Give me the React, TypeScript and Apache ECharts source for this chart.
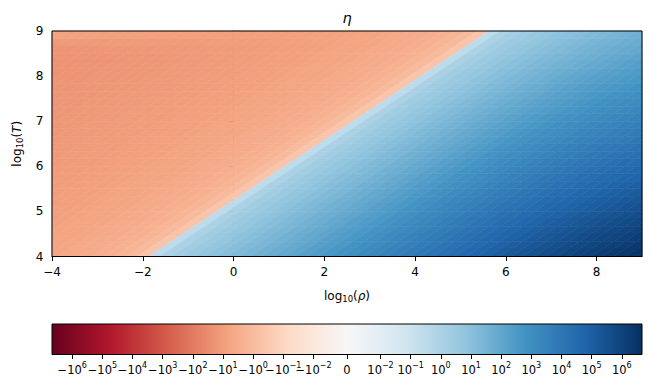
import React, { useEffect, useRef } from 'react';
import * as echarts from 'echarts';

// cell centres (log10 rho, log10 T)
const LOG_RHO = [-4.125, -3.875, -3.625, -3.375, -3.125, -2.875, -2.625, -2.375, -2.125, -1.875, -1.625, -1.375, -1.125, -0.875, -0.625, -0.375, -0.125, 0.125, 0.375, 0.625, 0.875, 1.125, 1.375, 1.625, 1.875, 2.125, 2.375, 2.625, 2.875, 3.125, 3.375, 3.625, 3.875, 4.125, 4.375, 4.625, 4.875, 5.125, 5.375, 5.625, 5.875, 6.125, 6.375, 6.625, 6.875, 7.125, 7.375, 7.625, 7.875, 8.125, 8.375, 8.625, 8.875, 9.125];
const LOG_T = [4.0833, 4.25, 4.4167, 4.5833, 4.75, 4.9167, 5.0833, 5.25, 5.4167, 5.5833, 5.75, 5.9167, 6.0833, 6.25, 6.4167, 6.5833, 6.75, 6.9167, 7.0833, 7.25, 7.4167, 7.5833, 7.75, 7.9167, 8.0833, 8.25, 8.4167, 8.5833, 8.75, 8.9167];

// eta, one row per LOG_T value (bottom to top), one entry per LOG_RHO value
const ETA = [
  [-5.8, -5.2, -4.6, -4.1, -3.5, -2.9, -2.3, -1.7, -1.1, -0.46, 0.29, 1.13, 2.16, 3.5, 5.3, 7.9, 11.7, 17.3, 25.4, 37.3, 54.7, 80.3, 118, 173, 254, 373, 547, 803, 1180, 1730, 2540, 3720, 5440, 7960, 11700, 17000, 24700, 35900, 51700, 74100, 106000, 148000, 206000, 283000, 383000, 511000, 673000, 874000, 1.12e6, 1.43e6, 1.81e6, 2.26e6, 2.83e6, 3.5e6],
  [-6.4, -5.8, -5.2, -4.6, -4.1, -3.5, -2.9, -2.3, -1.7, -1.1, -0.46, 0.29, 1.13, 2.16, 3.5, 5.3, 7.9, 11.7, 17.3, 25.4, 37.3, 54.7, 80.3, 118, 173, 254, 373, 547, 803, 1180, 1730, 2530, 3700, 5420, 7940, 11600, 16800, 24400, 35200, 50500, 71900, 101000, 140000, 193000, 261000, 348000, 458000, 595000, 765000, 976000, 1.23e6, 1.54e6, 1.93e6, 2.39e6],
  [-6.9, -6.4, -5.8, -5.2, -4.6, -4.1, -3.5, -2.9, -2.3, -1.7, -1.1, -0.46, 0.29, 1.13, 2.16, 3.5, 5.3, 7.9, 11.7, 17.3, 25.4, 37.3, 54.7, 80.3, 118, 173, 254, 373, 547, 803, 1180, 1730, 2520, 3690, 5410, 7880, 11500, 16600, 24000, 34400, 49000, 68800, 95700, 131000, 178000, 237000, 312000, 406000, 521000, 665000, 838000, 1.05e6, 1.32e6, 1.63e6],
  [-7.5, -6.9, -6.4, -5.8, -5.2, -4.6, -4.1, -3.5, -2.9, -2.3, -1.7, -1.1, -0.46, 0.29, 1.13, 2.16, 3.5, 5.3, 7.9, 11.7, 17.3, 25.4, 37.3, 54.7, 80.3, 118, 173, 254, 373, 547, 803, 1180, 1720, 2520, 3680, 5370, 7810, 11300, 16300, 23400, 33400, 46900, 65200, 89500, 121000, 162000, 213000, 276000, 355000, 453000, 571000, 716000, 896000, 1.11e6],
  [-8.1, -7.5, -6.9, -6.4, -5.8, -5.2, -4.6, -4.1, -3.5, -2.9, -2.3, -1.7, -1.1, -0.46, 0.29, 1.13, 2.16, 3.5, 5.3, 7.9, 11.7, 17.3, 25.4, 37.3, 54.7, 80.3, 118, 173, 254, 373, 547, 800, 1170, 1710, 2510, 3660, 5320, 7720, 11100, 16000, 22700, 31900, 44400, 61000, 82400, 110000, 145000, 188000, 242000, 309000, 389000, 488000, 610000, 755000],
  [-8.7, -8.1, -7.5, -6.9, -6.4, -5.8, -5.2, -4.6, -4.1, -3.5, -2.9, -2.3, -1.7, -1.1, -0.46, 0.29, 1.13, 2.16, 3.5, 5.3, 7.9, 11.7, 17.3, 25.4, 37.3, 54.7, 80.3, 118, 173, 254, 373, 545, 798, 1170, 1710, 2490, 3630, 5260, 7590, 10900, 15500, 21800, 30300, 41600, 56200, 75000, 98700, 128000, 165000, 210000, 265000, 332000, 416000, 515000],
  [-9.2, -8.7, -8.1, -7.5, -6.9, -6.4, -5.8, -5.2, -4.6, -4.1, -3.5, -2.9, -2.3, -1.7, -1.1, -0.46, 0.29, 1.13, 2.16, 3.5, 5.3, 7.9, 11.7, 17.3, 25.4, 37.3, 54.7, 80.3, 118, 173, 254, 372, 544, 796, 1170, 1700, 2470, 3590, 5170, 7410, 10600, 14800, 20600, 28300, 38300, 51100, 67300, 87400, 112000, 143000, 181000, 226000, 283000, 351000],
  [-9.8, -9.2, -8.7, -8.1, -7.5, -6.9, -6.4, -5.8, -5.2, -4.6, -4.1, -3.5, -2.9, -2.3, -1.7, -1.1, -0.46, 0.29, 1.13, 2.16, 3.5, 5.3, 7.9, 11.7, 17.3, 25.4, 37.3, 54.7, 80.3, 118, 173, 253, 370, 542, 794, 1160, 1680, 2440, 3520, 5050, 7190, 10100, 14100, 19300, 26100, 34800, 45800, 59500, 76500, 97600, 123000, 154000, 193000, 239000],
  [-10.4, -9.8, -9.2, -8.7, -8.1, -7.5, -6.9, -6.4, -5.8, -5.2, -4.6, -4.1, -3.5, -2.9, -2.3, -1.7, -1.1, -0.46, 0.29, 1.13, 2.16, 3.5, 5.3, 7.9, 11.7, 17.3, 25.4, 37.3, 54.7, 80.3, 118, 172, 252, 369, 541, 788, 1150, 1660, 2400, 3440, 4900, 6880, 9570, 13100, 17800, 23700, 31200, 40600, 52100, 66500, 83800, 105000, 132000, 163000],
  [-11, -10.4, -9.8, -9.2, -8.7, -8.1, -7.5, -6.9, -6.4, -5.8, -5.2, -4.6, -4.1, -3.5, -2.9, -2.3, -1.7, -1.1, -0.46, 0.29, 1.13, 2.16, 3.5, 5.3, 7.9, 11.7, 17.3, 25.4, 37.3, 54.7, 80.3, 117, 172, 252, 368, 537, 781, 1130, 1630, 2340, 3340, 4690, 6520, 8950, 12100, 16200, 21300, 27600, 35500, 45300, 57100, 71600, 89600, 111000],
  [-11.5, -11, -10.4, -9.8, -9.2, -8.7, -8.1, -7.5, -6.9, -6.4, -5.8, -5.2, -4.6, -4.1, -3.5, -2.9, -2.3, -1.7, -1.1, -0.46, 0.29, 1.13, 2.16, 3.5, 5.3, 7.9, 11.7, 17.3, 25.4, 37.3, 54.7, 80, 117, 171, 251, 366, 532, 772, 1110, 1600, 2270, 3190, 4440, 6100, 8240, 11000, 14500, 18800, 24200, 30900, 38900, 48800, 61000, 75500],
  [-12.1, -11.5, -11, -10.4, -9.8, -9.2, -8.7, -8.1, -7.5, -6.9, -6.4, -5.8, -5.2, -4.6, -4.1, -3.5, -2.9, -2.3, -1.7, -1.1, -0.46, 0.29, 1.13, 2.16, 3.5, 5.3, 7.9, 11.7, 17.3, 25.4, 37.3, 54.5, 79.8, 117, 171, 249, 363, 526, 759, 1090, 1550, 2180, 3030, 4160, 5620, 7500, 9870, 12800, 16500, 21000, 26500, 33200, 41600, 51500],
  [-12.7, -12.1, -11.5, -11, -10.4, -9.8, -9.2, -8.7, -8.1, -7.5, -6.9, -6.4, -5.8, -5.2, -4.6, -4.1, -3.5, -2.9, -2.3, -1.7, -1.1, -0.46, 0.29, 1.13, 2.16, 3.5, 5.3, 7.9, 11.7, 17.3, 25.4, 37.2, 54.4, 79.6, 117, 170, 247, 359, 517, 741, 1060, 1480, 2060, 2830, 3830, 5110, 6730, 8740, 11200, 14300, 18100, 22600, 28300, 35100],
  [-13.3, -12.7, -12.1, -11.5, -11, -10.4, -9.8, -9.2, -8.7, -8.1, -7.5, -6.9, -6.4, -5.8, -5.2, -4.6, -4.1, -3.5, -2.9, -2.3, -1.7, -1.1, -0.46, 0.29, 1.13, 2.16, 3.5, 5.3, 7.9, 11.7, 17.3, 25.3, 37, 54.2, 79.4, 116, 168, 244, 352, 505, 719, 1010, 1410, 1930, 2610, 3480, 4580, 5950, 7650, 9760, 12300, 15400, 19300, 23900],
  [-13.8, -13.3, -12.7, -12.1, -11.5, -11, -10.4, -9.8, -9.2, -8.7, -8.1, -7.5, -6.9, -6.4, -5.8, -5.2, -4.6, -4.1, -3.5, -2.9, -2.3, -1.7, -1.1, -0.46, 0.29, 1.13, 2.16, 3.5, 5.3, 7.9, 11.7, 17.2, 25.2, 36.9, 54.1, 78.8, 115, 166, 240, 344, 490, 688, 957, 1310, 1780, 2370, 3120, 4060, 5210, 6650, 8380, 10500, 13200, 16300],
  [-14.4, -13.8, -13.3, -12.7, -12.1, -11.5, -11, -10.4, -9.8, -9.2, -8.7, -8.1, -7.5, -6.9, -6.4, -5.8, -5.2, -4.6, -4.1, -3.5, -2.9, -2.3, -1.7, -1.1, -0.46, 0.29, 1.13, 2.16, 3.5, 5.3, 7.9, 11.7, 17.2, 25.2, 36.8, 53.7, 78.1, 113, 163, 234, 334, 469, 652, 895, 1210, 1620, 2130, 2760, 3550, 4530, 5710, 7160, 8960, 11100],
  [-15, -14.4, -13.8, -13.3, -12.7, -12.1, -11.5, -11, -10.4, -9.8, -9.2, -8.7, -8.1, -7.5, -6.9, -6.4, -5.8, -5.2, -4.6, -4.1, -3.5, -2.9, -2.3, -1.7, -1.1, -0.46, 0.29, 1.13, 2.16, 3.5, 5.3, 7.9, 11.7, 17.1, 25.1, 36.6, 53.2, 77.2, 111, 160, 227, 319, 444, 610, 824, 1100, 1450, 1880, 2420, 3090, 3890, 4880, 6100, 7550],
  [-15.6, -15, -14.4, -13.8, -13.3, -12.7, -12.1, -11.5, -11, -10.4, -9.8, -9.2, -8.7, -8.1, -7.5, -6.9, -6.4, -5.8, -5.2, -4.6, -4.1, -3.5, -2.9, -2.3, -1.7, -1.1, -0.46, 0.29, 1.13, 2.16, 3.5, 5.3, 7.85, 11.7, 17.1, 24.9, 36.3, 52.6, 75.9, 109, 155, 218, 303, 416, 562, 750, 987, 1280, 1650, 2100, 2650, 3320, 4160, 5150],
  [-16.1, -15.6, -15, -14.4, -13.8, -13.3, -12.7, -12.1, -11.5, -11, -10.4, -9.8, -9.2, -8.7, -8.1, -7.5, -6.9, -6.4, -5.8, -5.2, -4.6, -4.1, -3.5, -2.9, -2.3, -1.7, -1.1, -0.46, 0.29, 1.13, 2.16, 3.49, 5.27, 7.83, 11.7, 17, 24.7, 35.9, 51.7, 74.1, 106, 148, 206, 283, 383, 511, 673, 874, 1120, 1430, 1810, 2260, 2830, 3510],
  [-16.7, -16.1, -15.6, -15, -14.4, -13.8, -13.3, -12.7, -12.1, -11.5, -11, -10.4, -9.8, -9.2, -8.7, -8.1, -7.5, -6.9, -6.4, -5.8, -5.2, -4.6, -4.1, -3.5, -2.9, -2.3, -1.7, -1.1, -0.46, 0.29, 1.13, 2.15, 3.48, 5.25, 7.8, 11.6, 16.8, 24.4, 35.2, 50.5, 71.9, 101, 140, 193, 261, 348, 458, 595, 765, 976, 1230, 1540, 1930, 2390],
  [-17.3, -16.7, -16.1, -15.6, -15, -14.4, -13.8, -13.3, -12.7, -12.1, -11.5, -11, -10.4, -9.8, -9.2, -8.7, -8.1, -7.5, -6.9, -6.4, -5.8, -5.2, -4.6, -4.1, -3.5, -2.9, -2.3, -1.7, -1.1, -0.46, 0.29, 1.13, 2.15, 3.47, 5.23, 7.75, 11.5, 16.6, 24, 34.4, 49, 68.8, 95.7, 131, 178, 237, 312, 406, 521, 665, 838, 1050, 1320, 1630],
  [-17.9, -17.3, -16.7, -16.1, -15.6, -15, -14.4, -13.8, -13.3, -12.7, -12.1, -11.5, -11, -10.4, -9.8, -9.2, -8.7, -8.1, -7.5, -6.9, -6.4, -5.8, -5.2, -4.6, -4.1, -3.5, -2.9, -2.3, -1.7, -1.1, -0.46, 0.29, 1.12, 2.14, 3.45, 5.2, 7.69, 11.3, 16.3, 23.4, 33.4, 46.9, 65.2, 89.5, 121, 161, 213, 276, 355, 453, 571, 716, 895, 1110],
  [-18.4, -17.9, -17.3, -16.7, -16.1, -15.6, -15, -14.4, -13.8, -13.3, -12.7, -12.1, -11.5, -11, -10.4, -9.8, -9.2, -8.7, -8.1, -7.5, -6.9, -6.4, -5.8, -5.2, -4.6, -4.1, -3.5, -2.9, -2.3, -1.7, -1.1, -0.46, 0.29, 1.12, 2.13, 3.43, 5.16, 7.59, 11.1, 16, 22.7, 31.9, 44.4, 61, 82.4, 110, 145, 188, 242, 308, 389, 488, 610, 755],
  [-19, -18.4, -17.9, -17.3, -16.7, -16.1, -15.6, -15, -14.4, -13.8, -13.3, -12.7, -12.1, -11.5, -11, -10.4, -9.8, -9.2, -8.7, -8.1, -7.5, -6.9, -6.4, -5.8, -5.2, -4.6, -4.1, -3.5, -2.9, -2.3, -1.7, -1.1, -0.46, 0.29, 1.12, 2.12, 3.41, 5.09, 7.47, 10.9, 15.5, 21.8, 30.3, 41.6, 56.2, 75, 98.7, 128, 165, 210, 265, 332, 416, 515],
  [-19.6, -19, -18.4, -17.9, -17.3, -16.7, -16.1, -15.6, -15, -14.4, -13.8, -13.3, -12.7, -12.1, -11.5, -11, -10.4, -9.8, -9.2, -8.7, -8.1, -7.5, -6.9, -6.4, -5.8, -5.2, -4.6, -4.1, -3.5, -2.9, -2.3, -1.7, -1.1, -0.46, 0.29, 1.11, 2.1, 3.36, 5.01, 7.29, 10.6, 14.8, 20.6, 28.3, 38.3, 51.1, 67.3, 87.4, 112, 143, 181, 226, 283, 351],
  [-20.2, -19.6, -19, -18.4, -17.9, -17.3, -16.7, -16.1, -15.6, -15, -14.4, -13.8, -13.3, -12.7, -12.1, -11.5, -11, -10.4, -9.8, -9.2, -8.7, -8.1, -7.5, -6.9, -6.4, -5.8, -5.2, -4.6, -4.1, -3.5, -2.9, -2.3, -1.7, -1.1, -0.46, 0.28, 1.1, 2.08, 3.31, 4.89, 7.06, 10.1, 14, 19.3, 26.1, 34.8, 45.8, 59.5, 76.5, 97.6, 123, 154, 193, 239],
  [-19.9, -19.4, -18.9, -18.4, -17.8, -17.4, -16.9, -16.3, -15.8, -15.3, -14.8, -14.2, -13.7, -13.2, -12.6, -12.1, -11.5, -11, -10.4, -9.8, -9.2, -8.7, -8.1, -7.5, -6.9, -6.4, -5.8, -5.2, -4.6, -4.1, -3.5, -2.9, -2.3, -1.7, -1.1, -0.46, 0.28, 1.09, 2.04, 3.23, 4.74, 6.77, 9.57, 13.1, 17.8, 23.7, 31.2, 40.6, 52.1, 66.5, 83.8, 105, 131, 163],
  [-18.4, -18, -17.7, -17.2, -16.8, -16.4, -16, -15.6, -15.1, -14.7, -14.3, -13.8, -13.4, -12.9, -12.5, -12.1, -11.6, -11.1, -10.7, -10.3, -9.8, -9.2, -8.7, -8.1, -7.5, -6.9, -6.4, -5.8, -5.2, -4.6, -4.1, -3.5, -2.9, -2.3, -1.7, -1.1, -0.46, 0.28, 1.07, 1.99, 3.13, 4.54, 6.41, 8.95, 12.1, 16.1, 21.3, 27.6, 35.5, 45.3, 57.1, 71.6, 89.5, 111],
  [-13, -12.9, -12.8, -12.7, -12.6, -12.5, -12.3, -12.3, -12.1, -11.9, -11.8, -11.6, -11.6, -11.4, -11.2, -11, -10.8, -10.5, -10.2, -10, -9.6, -9.2, -8.8, -8.4, -7.9, -7.4, -6.9, -6.4, -5.8, -5.2, -4.6, -4.1, -3.5, -2.9, -2.3, -1.7, -1.1, -0.46, 0.27, 1.04, 1.93, 3, 4.3, 6, 8.24, 11, 14.5, 18.8, 24.2, 30.8, 38.9, 48.8, 61, 75.5],
  [-7.2, -7.3, -7.5, -7.6, -7.9, -8, -8.2, -8.3, -8.4, -8.5, -8.6, -8.7, -8.8, -8.9, -8.9, -9, -9.1, -9.1, -9, -8.9, -8.9, -8.6, -8.4, -8.1, -7.8, -7.5, -7.1, -6.6, -6.2, -5.7, -5.1, -4.6, -4.1, -3.5, -2.9, -2.3, -1.7, -1.1, -0.46, 0.27, 1.01, 1.85, 2.84, 4.02, 5.53, 7.5, 9.87, 12.8, 16.5, 21, 26.5, 33.2, 41.6, 51.5],
];

// axis ticks
const X_TICKS = [-4, -2, 0, 2, 4, 6, 8];
// colour-bar ticks: value, mantissa text, exponent text
const CB_TICKS = [-1e6, -1e5, -1e4, -1e3, -1e2, -1e1, -1, -0.1, -0.01, 0, 0.01, 0.1, 1, 1e1, 1e2, 1e3, 1e4, 1e5, 1e6];
const CB_BASE = ['−10', '−10', '−10', '−10', '−10', '−10', '−10', '−10', '−10', '0', '10', '10', '10', '10', '10', '10', '10', '10', '10'];
const CB_EXP = ['6', '5', '4', '3', '2', '1', '0', '−1', '−2', '', '−2', '−1', '0', '1', '2', '3', '4', '5', '6'];
const VMAX = 4.67e6;

const RDBU = ['#67001f', '#b2182b', '#d6604d', '#f4a582', '#fddbc7', '#f7f7f7', '#d1e5f0', '#92c5de', '#4393c3', '#2166ac', '#053061'];

const LINTHRESH = 0.01;
const LINSCALE_ADJ = 1 / (1 - 1 / 10);
function symlog(v: number): number {
  const a = Math.abs(v);
  if (a <= LINTHRESH) return (v / LINTHRESH) * LINSCALE_ADJ;
  return Math.sign(v) * (LINSCALE_ADJ + Math.log10(a / LINTHRESH));
}

// cell geometry: cell width / height in data units, cells are sheared along the eta = 0 boundary
const HALF_W = 0.125;
const HALF_H = 1 / 12;
const SHEAR = 0.125;
const FONT = 'DejaVu Sans';
const FS = 12;

type P = number[];
function clipX(pts: P[], x: number, keepGreater: boolean): P[] {
  const out: P[] = [];
  const inside = (p: P) => (keepGreater ? p[0] >= x : p[0] <= x);
  for (let k = 0; k < pts.length; k++) {
    const cur = pts[k];
    const prev = pts[(k + pts.length - 1) % pts.length];
    const ci = inside(cur);
    const pi = inside(prev);
    const cross = () => {
      const t = (x - prev[0]) / (cur[0] - prev[0]);
      return [x, prev[1] + t * (cur[1] - prev[1])];
    };
    if (ci) {
      if (!pi) out.push(cross());
      out.push(cur);
    } else if (pi) {
      out.push(cross());
    }
  }
  return out;
}

export default function App() {
  const ref = useRef<HTMLDivElement>(null);
  useEffect(() => {
    if (!ref.current) return;
    const chart = echarts.init(ref.current, undefined, { renderer: 'svg' });
    const uMax = symlog(VMAX);
    const cells: number[][] = [];
    ETA.forEach((row, j) => {
      row.forEach((eta, i) => {
        cells.push([LOG_RHO[i], LOG_T[j], eta, symlog(eta)]);
      });
    });
    const cbVals = CB_TICKS.map(symlog);
    const gradient = new echarts.graphic.LinearGradient(
      0, 0, 1, 0,
      RDBU.map((c, k) => ({ offset: k / (RDBU.length - 1), color: c }))
    );
    const labelStyle = { color: '#000', fontSize: FS, fontFamily: FONT };
    const nameRich = {
      b: { fontSize: FS, lineHeight: 16, fontFamily: FONT, color: '#000' },
      i: { fontSize: FS, lineHeight: 16, fontFamily: FONT, color: '#000', fontStyle: 'italic' },
      sub: { fontSize: 8.5, lineHeight: 9, fontFamily: FONT, color: '#000', verticalAlign: 'bottom' },
    };
    chart.setOption({
      animation: false,
      textStyle: { fontFamily: FONT },
      graphic: [
        {
          type: 'text',
          x: 347,
          y: 18,
          style: {
            text: 'η',
            fill: '#000',
            fontSize: 14.5,
            fontStyle: 'italic',
            fontFamily: FONT,
            align: 'center',
            verticalAlign: 'middle',
            textAlign: 'center',
            textVerticalAlign: 'middle',
          },
        },
      ],
      grid: [
        { left: 52, top: 31, width: 590, height: 225.5, show: true, borderColor: '#000', borderWidth: 1, backgroundColor: 'transparent', z: 10 },
        { left: 52, top: 324, width: 590, height: 30.5, show: true, borderColor: '#000', borderWidth: 1, backgroundColor: gradient },
      ],
      xAxis: [
        {
          type: 'value', gridIndex: 0, min: -4, max: 9,
          axisLine: { show: true, lineStyle: { color: '#000', width: 1 } },
          axisTick: { show: true, length: 4.5, lineStyle: { color: '#000' }, customValues: X_TICKS },
          axisLabel: { ...labelStyle, margin: 9, customValues: X_TICKS, formatter: (v: number) => String(v).replace('-', '−') },
          splitLine: { show: false },
          name: '{b|log}{sub|10}{b|(}{i|ρ}{b|)}',
          nameLocation: 'middle',
          nameGap: 31,
          nameTextStyle: { ...labelStyle, rich: nameRich },
        },
        {
          type: 'value', gridIndex: 1, min: -uMax, max: uMax,
          axisLine: { show: false },
          axisTick: { show: true, length: 4.5, lineStyle: { color: '#000' }, customValues: cbVals },
          axisLabel: {
            color: '#000', fontFamily: FONT, fontSize: 11.5, margin: 7, customValues: cbVals,
            showMinLabel: true, showMaxLabel: true, hideOverlap: false,
            rich: {
              b: { fontSize: 11.5, lineHeight: 16, fontFamily: FONT, color: '#000' },
              s: { fontSize: 8, lineHeight: 8, fontFamily: FONT, color: '#000', verticalAlign: 'top' },
            },
            formatter: (v: number) => {
              let best = 0;
              cbVals.forEach((c, k) => { if (Math.abs(c - v) < Math.abs(cbVals[best] - v)) best = k; });
              const e = CB_EXP[best];
              return e ? `{b|${CB_BASE[best]}}{s|${e}}` : `{b|${CB_BASE[best]}}`;
            },
          },
          splitLine: { show: false },
        },
      ],
      yAxis: [
        {
          type: 'value', gridIndex: 0, min: 4, max: 9, interval: 1,
          axisLine: { show: true, lineStyle: { color: '#000', width: 1 } },
          axisTick: { show: true, length: 4.5, lineStyle: { color: '#000' } },
          axisLabel: { ...labelStyle, margin: 8.5 },
          splitLine: { show: false },
          name: '{b|log}{sub|10}{b|(}{i|T}{b|)}',
          nameLocation: 'middle',
          nameGap: 26,
          nameRotate: 90,
          nameTextStyle: { ...labelStyle, rich: nameRich },
        },
        { type: 'value', gridIndex: 1, min: 0, max: 1, show: false },
      ],
      visualMap: {
        type: 'continuous', show: false, seriesIndex: 0, dimension: 3,
        min: -uMax, max: uMax, inRange: { color: RDBU },
      },
      series: [
        {
          type: 'custom',
          xAxisIndex: 0,
          yAxisIndex: 0,
          silent: true,
          encode: { x: 0, y: 1 },
          data: cells,
          renderItem: (params: any, api: any) => {
            const x = api.value(0);
            const y = api.value(1);
            const corners = [
              api.coord([x - HALF_W - SHEAR, y - HALF_H]),
              api.coord([x + HALF_W - SHEAR, y - HALF_H]),
              api.coord([x + HALF_W + SHEAR, y + HALF_H]),
              api.coord([x - HALF_W + SHEAR, y + HALF_H]),
            ];
            const cs = params.coordSys;
            let pts = clipX(corners, cs.x, true);
            pts = clipX(pts, cs.x + cs.width, false);
            const color = api.visual('color');
            if (pts.length < 3) return { type: 'group', children: [] };
            return {
              type: 'polygon',
              shape: { points: pts },
              style: { fill: color, stroke: color, lineWidth: 0.6, lineJoin: 'bevel' },
            };
          },
        },
      ],
    });
    return () => chart.dispose();
  }, []);
  return <div ref={ref} style={{ position: 'absolute', left: 0, top: 0, width: 651, height: 392 }} />;
}
